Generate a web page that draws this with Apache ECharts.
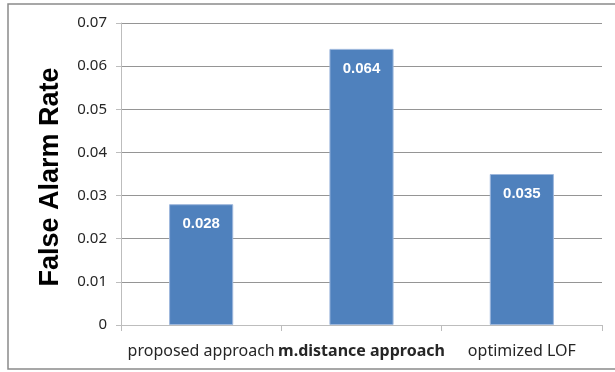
<!DOCTYPE html>
<html>
<head>
<meta charset="utf-8">
<script src="https://cdn.jsdelivr.net/npm/echarts@6/dist/echarts.min.js"></script>
<style>
  html, body { margin: 0; padding: 0; background: #fff; }
  #chart { width: 615px; height: 372px; }
</style>
</head>
<body>
<div id="chart"></div>
<script>
// Detection methods compared on false alarm rate
const categories = ['proposed approach', 'm.distance approach', 'optimized LOF'];
const falseAlarmRates = [0.028, 0.064, 0.035];
const yTicks = { min: 0, max: 0.07, interval: 0.01 };

const chart = echarts.init(document.getElementById('chart'), null, { renderer: 'canvas' });

chart.setOption({
  backgroundColor: '#ffffff',
  animation: false,
  graphic: [{
    type: 'rect',
    shape: { x: 8, y: 4, width: 620, height: 365 },
    style: { fill: 'none', stroke: '#8a8a8a', lineWidth: 1.5 },
    silent: true,
    z: -1
  }],
  grid: { left: 121, right: 13, top: 23, bottom: 47 },
  xAxis: {
    type: 'category',
    data: categories,
    axisLine: { show: true, lineStyle: { color: '#bdbdbd', width: 1 } },
    axisTick: { show: true, alignWithLabel: false, length: 6, lineStyle: { color: '#bdbdbd' } },
    axisLabel: {
      margin: 18,
      fontFamily: 'Noto Sans',
      fontSize: 16,
      color: '#262626',
      interval: 0,
      formatter: function (v) {
        return v === 'm.distance approach' ? '{b|' + v + '}' : v;
      },
      rich: { b: { fontWeight: 'bold', fontFamily: 'Noto Sans', fontSize: 16, color: '#262626' } }
    }
  },
  yAxis: {
    type: 'value',
    min: yTicks.min,
    max: yTicks.max,
    interval: yTicks.interval,
    name: 'False Alarm Rate',
    nameLocation: 'middle',
    nameGap: 57,
    nameTextStyle: { fontFamily: 'Liberation Sans', fontWeight: 'bold', fontSize: 27, color: '#000', padding: [0, 6, 0, 0] },
    axisLine: { show: true, lineStyle: { color: '#bdbdbd', width: 1 } },
    axisTick: { show: true, length: 5, lineStyle: { color: '#bdbdbd' } },
    axisLabel: {
      margin: 14,
      fontFamily: 'Noto Sans',
      fontSize: 15,
      color: '#262626',
      formatter: function (v) { return v === 0 ? '0' : v.toFixed(2); }
    },
    splitLine: { show: true, lineStyle: { color: '#959595', width: 1 } }
  },
  series: [{
    type: 'bar',
    data: falseAlarmRates,
    barWidth: '40%',
    itemStyle: { color: '#4f81bd', borderColor: '#9db7dc', borderWidth: 1 },
    label: {
      show: true,
      position: 'insideTop',
      distance: 12,
      fontFamily: 'Liberation Sans',
      fontWeight: 'bold',
      fontSize: 15,
      color: '#ffffff',
      formatter: function (p) { return p.value.toFixed(3); }
    }
  }]
});
</script>
</body>
</html>
